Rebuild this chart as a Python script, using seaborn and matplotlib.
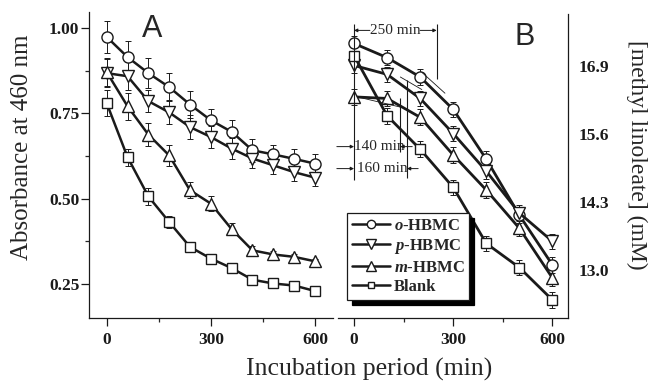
import seaborn as sns
import matplotlib.pyplot as plt
import numpy as np
import pandas as pd
from matplotlib.lines import Line2D

sns.set_theme(style="ticks")
plt.rcParams['font.family'] = ['Liberation Serif', 'DejaVu Serif']
plt.rcParams['mathtext.fontset'] = 'custom'
plt.rcParams['mathtext.it'] = 'Liberation Serif:italic:bold'
plt.rcParams['mathtext.rm'] = 'Liberation Serif:bold'

series = ["o-HBMC", "p-HBMC", "m-HBMC", "Blank"]
labels = ["$o$-HBMC", "$p$-HBMC", "$m$-HBMC", "Blank"]
markers = {"o-HBMC": "o", "p-HBMC": "v", "m-HBMC": "^", "Blank": "s"}
msizes = {"o-HBMC": 8, "p-HBMC": 8.5, "m-HBMC": 8.5, "Blank": 7}

# panel A: absorbance at 460 nm
time_a = [0, 60, 120, 180, 240, 300, 360, 420, 480, 540, 600]
abs_o = [0.974, 0.915, 0.868, 0.827, 0.776, 0.730, 0.696, 0.642, 0.630, 0.617, 0.603]
abs_p = [0.868, 0.859, 0.786, 0.753, 0.710, 0.681, 0.647, 0.618, 0.598, 0.578, 0.562]
abs_m = [0.871, 0.771, 0.688, 0.627, 0.525, 0.486, 0.411, 0.349, 0.337, 0.330, 0.317]
abs_b = [0.780, 0.622, 0.507, 0.432, 0.359, 0.325, 0.297, 0.263, 0.252, 0.246, 0.230]
err_o = [0.046, 0.046, 0.044, 0.042, 0.039, 0.034, 0.036, 0.034, 0.029, 0.030, 0.027]
err_p = [0.040, 0.041, 0.032, 0.035, 0.034, 0.032, 0.030, 0.028, 0.026, 0.025, 0.024]
err_m = [0.040, 0.040, 0.034, 0.030, 0.024, 0.022, 0.018, 0.012, 0.010, 0.008, 0.008]
err_b = [0.038, 0.025, 0.024, 0.018, 0.015, 0.014, 0.008, 0.006, 0.005, 0.005, 0.005]

# panel B: methyl linoleate (mM)
time_b = [0, 100, 200, 300, 400, 500, 600]
ml_o = [17.33, 17.06, 16.69, 16.07, 15.12, 14.05, 13.10]
ml_p = [16.91, 16.74, 16.28, 15.61, 14.89, 14.09, 13.55]
ml_m = [16.31, 16.28, 15.92, 15.20, 14.53, 13.80, 12.85]
ml_b = [17.10, 15.95, 15.31, 14.58, 13.51, 13.05, 12.43]
mlerr = [0.15, 0.15, 0.15, 0.15, 0.15, 0.15, 0.15]

# lag times and the thin tangent segments used to read them
lag_times = [250, 140, 160]
tan_t = [[205, 275], [140, 205], [10, 150]]
tan_v = [[16.78, 16.38], [16.69, 16.45], [16.31, 16.10]]

fig = plt.figure(figsize=(6.53, 3.85), dpi=100)
axA = fig.add_axes([0.1363, 0.1732, 0.3737, 0.7956])
axB = fig.add_axes([0.5176, 0.1732, 0.3527, 0.790])

dfA = pd.DataFrame({
    "t": time_a * 4,
    "v": abs_o + abs_p + abs_m + abs_b,
    "e": err_o + err_p + err_m + err_b,
    "s": np.repeat(series, len(time_a)),
})
dfB = pd.DataFrame({
    "t": time_b * 4,
    "v": ml_o + ml_p + ml_m + ml_b,
    "e": mlerr * 4,
    "s": np.repeat(series, len(time_b)),
})

for ax, df, lw in [(axA, dfA, 1.8), (axB, dfB, 2.0)]:
    for s in series:
        d = df[df.s == s]
        ax.errorbar(d.t, d.v, yerr=d.e, fmt="none", ecolor="k", elinewidth=0.7,
                    capsize=2.5, capthick=0.7, zorder=1.5)
    for s in series:
        d = df[df.s == s]
        sns.lineplot(data=d, x="t", y="v", color="k", marker=markers[s],
                     markersize=msizes[s], mfc="white", mec="k", mew=1.0,
                     lw=lw, ax=ax, legend=False, zorder=2)

# panel A styling
axA.set_xlim(-51, 652)
axA.set_ylim(0.15, 1.047)
axA.set_xticks([0, 300, 600])
axA.set_xticks([150, 450], minor=True)
axA.set_yticks([0.25, 0.50, 0.75, 1.00])
axA.set_yticklabels(["0.25", "0.50", "0.75", "1.00"])
axA.set_yticks([0.375, 0.625, 0.875], minor=True)
sns.despine(ax=axA)
axA.text(0.258, 0.945, "A", transform=axA.transAxes, fontsize=22,
         family="Liberation Sans", ha="center", va="center")

# panel B styling
axB.set_xlim(-48.5, 648)
axB.set_ylim(12.08, 17.89)
axB.set_xticks([0, 300, 600])
axB.set_xticks([150, 450], minor=True)
axB.yaxis.tick_right()
axB.set_yticks([13.0, 14.3, 15.6, 16.9])
axB.set_yticklabels(["13.0", "14.3", "15.6", "16.9"])
axB.set_yticks([12.35, 13.65, 14.95, 16.25, 17.55], minor=True)
sns.despine(ax=axB, left=True, right=False)
axB.text(0.81, 0.925, "B", transform=axB.transAxes, fontsize=22,
         family="Liberation Sans", ha="center", va="center")

for ax in (axA, axB):
    ax.set_xlabel("")
    ax.set_ylabel("")
    for sp in ax.spines.values():
        sp.set_linewidth(0.9)
        sp.set_color("k")
    ax.tick_params(which="major", direction="out", length=5.5, width=0.9,
                   labelsize=12.5, colors="k")
    ax.tick_params(which="minor", direction="out", length=3, width=0.9)
    ax.tick_params(axis="x", pad=4)
    for t in ax.get_xticklabels() + ax.get_yticklabels():
        t.set_fontweight("bold")
axA.tick_params(axis="y", pad=1.5)
axB.tick_params(axis="y", pad=2)

# lag time annotations in panel B
axB.vlines(0, 14.73, 17.71, color="k", lw=0.8)
axB.vlines(lag_times[0], 16.66, 17.71, color="k", lw=0.8)
axB.vlines(lag_times[1], 15.25, 16.28, color="k", lw=0.8)
axB.vlines(lag_times[2], 14.76, 16.63, color="k", lw=0.8)
for tt, tv in zip(tan_t, tan_v):
    axB.plot(tt, tv, color="k", lw=0.6, zorder=2.5)
arr = dict(arrowstyle="-|>", lw=0.7, color="k", mutation_scale=5,
           shrinkA=0, shrinkB=0)
axB.text(lag_times[0] / 2, 17.58, "%d min" % lag_times[0], fontsize=11,
         ha="center", va="center")
axB.annotate("", xy=(0, 17.58), xytext=(48, 17.58), arrowprops=arr)
axB.annotate("", xy=(lag_times[0], 17.58), xytext=(200, 17.58), arrowprops=arr)
axB.text(77, 15.36, "%d min" % lag_times[1], fontsize=11, ha="center", va="center")
axB.annotate("", xy=(0, 15.36), xytext=(-52, 15.36), arrowprops=arr)
axB.annotate("", xy=(lag_times[1], 15.36), xytext=(176, 15.36), arrowprops=arr)
axB.text(85, 14.94, "%d min" % lag_times[2], fontsize=11, ha="center", va="center")
axB.annotate("", xy=(0, 14.94), xytext=(-52, 14.94), arrowprops=arr)
axB.annotate("", xy=(lag_times[2], 14.94), xytext=(194, 14.94), arrowprops=arr)

# legend
handles = [Line2D([], [], color="k", lw=1.8, marker=markers[s],
                  markersize=msizes[s] - 2, mfc="white", mec="k", mew=1.0)
           for s in series]
leg = axB.legend(handles, labels, loc="upper left",
                 bbox_to_anchor=(347 / 653, 1 - 213 / 385),
                 bbox_transform=fig.transFigure, borderaxespad=0,
                 prop={"family": "Liberation Serif", "weight": "bold", "size": 12},
                 handlelength=2.3, handletextpad=0.2, labelspacing=0.2,
                 borderpad=0.3, fancybox=False, framealpha=1,
                 shadow={"color": "black", "alpha": 1, "ox": 3.5, "oy": -3.5})
leg.get_frame().set_edgecolor("k")
leg.get_frame().set_linewidth(0.9)

fig.text(22 / 653, 1 - 147 / 385, "Absorbance at 460 nm", rotation=90,
         fontsize=18, ha="center", va="center")
fig.text(637 / 653, 1 - 155 / 385, "[methyl linoleate] (mM)", rotation=270,
         fontsize=17, ha="center", va="center")
fig.text(369 / 653, 1 - 369 / 385, "Incubation period (min)",
         fontsize=18.5, ha="center", va="center")

fig.savefig("out.png", dpi=100)
